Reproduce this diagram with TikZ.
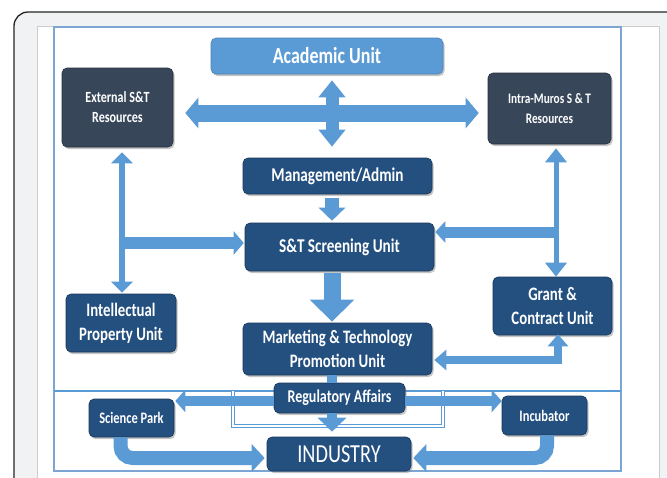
\documentclass[tikz,border=0pt]{standalone}
\usepackage{fontspec}
\setmainfont{Carlito}[FakeStretch=0.78]
\usetikzlibrary{arrows.meta,shadows}

\definecolor{arrowblue}{RGB}{91,155,213}
\definecolor{navy}{RGB}{36,80,128}
\definecolor{slate}{RGB}{56,70,90}
\definecolor{cardgray}{RGB}{241,242,244}
\definecolor{frameblue}{RGB}{125,165,212}

\tikzset{
	unit/.style={rounded corners=5pt, fill=navy, draw=navy!70!black, line width=0.6pt,
		text=white, align=center, inner sep=0pt,
		drop shadow={shadow xshift=1.5pt, shadow yshift=-2pt, opacity=0.45}},
	resource/.style={unit, fill=slate, draw=slate!70!black},
	pipe/.style={draw=arrowblue, line width=#1},
}

\begin{document}
\begin{tikzpicture}[x=1pt,y=-1pt]
	\useasboundingbox (0,0) rectangle (667,477);
	\clip (0,0) rectangle (667,477);
	\fill[white] (0,0) rectangle (667,477);
	\draw[fill=cardgray, draw=black!85, line width=1.3pt, rounded corners=14pt] (14,12) rectangle (720,530);
	\draw[fill=white, draw=black!20] (37,26) rectangle (659,500);
	\draw[frameblue, line width=1.2pt] (54,27) rectangle (621,471);
	\draw[arrowblue, line width=2pt] (54,391) -- (621,391);

	\node (acad)   at (327,56)      [unit, fill=arrowblue, draw=arrowblue!85!black, minimum width=232pt, minimum height=36pt, font=\bfseries\fontsize{23}{27}\selectfont] {Academic Unit};
	\node (ext)    at (117.5,107.5) [resource, minimum width=111pt, minimum height=79pt, font=\bfseries\fontsize{15.5}{20}\selectfont] {External S\&T\\Resources};
	\node (intra)  at (549.5,108.5) [resource, minimum width=123pt, minimum height=71pt, font=\bfseries\fontsize{14.5}{20}\selectfont] {Intra-Muros S \& T\\Resources};
	\node (mgmt)   at (337.5,176)   [unit, minimum width=189pt, minimum height=36pt, font=\bfseries\fontsize{19.5}{23}\selectfont] {Management/Admin};
	\node (screen) at (339.5,247)   [unit, minimum width=189pt, minimum height=48pt, font=\bfseries\fontsize{19.5}{23}\selectfont] {S\&T Screening Unit};
	\node (ip)     at (121,323)     [unit, minimum width=110pt, minimum height=58pt, font=\bfseries\fontsize{19}{24}\selectfont] {Intellectual\\Property Unit};
	\node (grant)  at (552.5,306)   [unit, minimum width=119pt, minimum height=58pt, font=\bfseries\fontsize{19}{24}\selectfont] {Grant \&\\Contract Unit};
	\node (mkt)    at (337.5,349)   [unit, minimum width=189pt, minimum height=52pt, font=\bfseries\fontsize{19}{24}\selectfont] {Marketing \& Technology\\Promotion Unit};
	\node (sci)    at (131.5,418)   [unit, minimum width=85pt, minimum height=38pt, font=\bfseries\fontsize{16}{19}\selectfont] {Science Park};
	\node (inc)    at (544.5,415.5) [unit, minimum width=85pt, minimum height=39pt, font=\bfseries\fontsize{16}{19}\selectfont] {Incubator};
	\node (ind)    at (339,454)     [unit, minimum width=144pt, minimum height=34pt, font=\fontsize{26}{30}\selectfont] {INDUSTRY};

	\draw[arrowblue, double=white, double distance=1.6pt, line width=0.9pt] (233,391) -- (233,426) -- (443,426) -- (443,391);
	\node (reg)    at (339.5,398)   [unit, minimum width=131pt, minimum height=30pt, font=\bfseries\fontsize{18}{22}\selectfont] {Regulatory Affairs};

	\coordinate (hub) at (332,113);
	\coordinate (lb) at (122,243);
	\coordinate (rb) at (556,232);
	\coordinate (gc) at (558,360);
	\coordinate (rl) at (0,401);

	\draw[pipe=17pt, {Triangle[length=13pt,width=30pt]}-{Triangle[length=13pt,width=30pt]}] ([xshift=12pt]ext.east |- hub) -- ([xshift=-9pt]intra.west |- hub);
	\draw[pipe=13pt, {Triangle[length=17pt,width=26pt]}-{Triangle[length=17pt,width=26pt]}] ([yshift=-6pt]acad.south -| hub) -- ([yshift=11pt]mgmt.north -| hub);
	\draw[pipe=14pt, -{Triangle[length=13pt,width=26pt]}] ([yshift=-4pt]mgmt.south -| hub) -- ([yshift=2pt]screen.north -| hub);
	\draw[pipe=17pt, -{Triangle[length=22pt,width=43pt]}] ([yshift=-2pt]screen.south -| hub) -- ([yshift=1pt]mkt.north -| hub);

	\draw[pipe=5.5pt, {Triangle[length=11pt,width=21pt]}-{Triangle[length=11pt,width=21pt]}] ([yshift=-5pt]ext.south -| lb) -- ([yshift=1pt]ip.north -| lb);
	\draw[pipe=12pt, -{Triangle[length=10pt,width=23pt]}] ([xshift=-3pt]lb) -- ([xshift=-1pt]screen.west |- lb);
	\draw[pipe=5pt, {Triangle[length=14pt,width=21pt]}-{Triangle[length=14pt,width=21pt]}] ([yshift=-4pt]intra.south -| rb) -- (grant.north -| rb);
	\draw[pipe=11pt, -{Triangle[length=10pt,width=21pt]}] ([xshift=2pt]rb) -- ([xshift=1pt]screen.east |- rb);
	\draw[pipe=8pt, {Triangle[length=12pt,width=20pt]}-{Triangle[length=12pt,width=20pt]}] ([xshift=2pt]mkt.east |- gc) -- (gc) -- ([yshift=1pt]grant.south -| gc);

	\draw[pipe=10pt] (mkt.south -| hub) -- (reg.north -| hub);
	\draw[pipe=10pt, -{Triangle[length=10pt,width=22pt]}] (reg.west |- rl) -- ([xshift=1pt]sci.east |- rl);
	\draw[pipe=10pt, -{Triangle[length=10pt,width=22pt]}] (reg.east |- rl) -- (inc.west |- rl);
	\draw[pipe=10pt, -{Triangle[length=14pt,width=28pt]}] (reg.south -| hub) -- ([yshift=5pt]ind.north -| hub);
	\draw[pipe=14pt, rounded corners=12pt, -{Triangle[length=13pt,width=27pt]}] ([xshift=-11pt]sci.south) |- ([xshift=-2pt,yshift=-4pt]ind.west);
	\draw[pipe=14pt, rounded corners=12pt, -{Triangle[length=13pt,width=27pt]}] ([xshift=2.5pt]inc.south) |- ([xshift=2pt,yshift=-4pt]ind.east);
\end{tikzpicture}
\end{document}
